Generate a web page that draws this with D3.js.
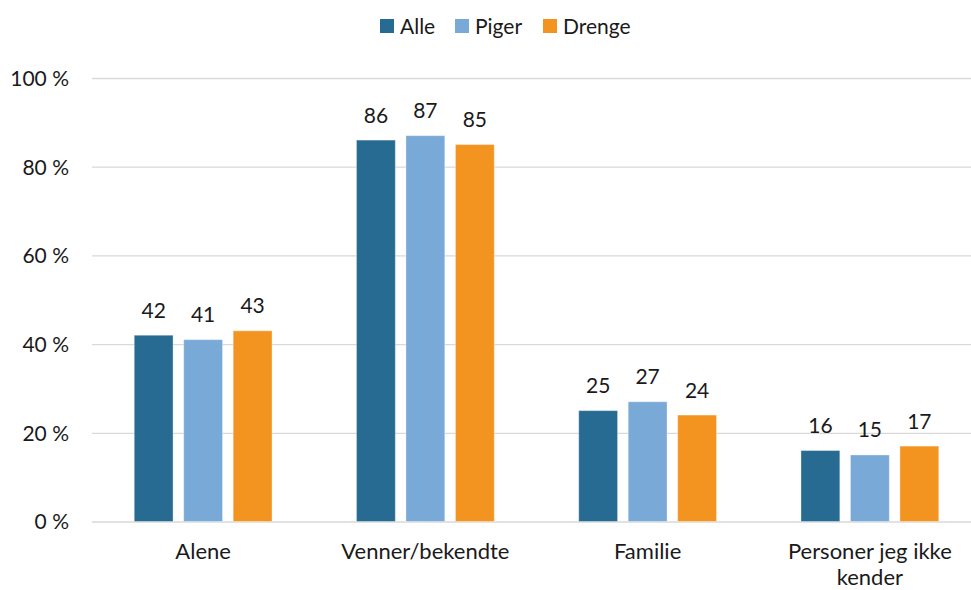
<!DOCTYPE html>
<html>
<head>
<meta charset="utf-8">
<script src="https://cdn.jsdelivr.net/npm/d3@7"></script>
<style>
  html, body { margin: 0; padding: 0; background: #fff; }
  svg { display: block; }
  text { font-family: Lato, "Open Sans", sans-serif; fill: #1a1a1a; }
</style>
</head>
<body>
<svg id="chart" width="971" height="590"></svg>
<script>
// Chart data
const categories = ["Alene", "Venner/bekendte", "Familie", "Personer jeg ikke kender"];
const categoryLines = [["Alene"], ["Venner/bekendte"], ["Familie"], ["Personer jeg ikke", "kender"]];
const seriesNames = ["Alle", "Piger", "Drenge"];
const alle = [42, 86, 25, 16];
const piger = [41, 87, 27, 15];
const drenge = [43, 85, 24, 17];
const yTicks = [0, 20, 40, 60, 80, 100];
const colors = ["#276b93", "#79a9d7", "#f49420"];

const seriesValues = [alle, piger, drenge];
const svg = d3.select("#chart");
const fontSize = "21px";
const catFontSize = "22px";

const plotLeft = 92, plotRight = 981, plotTop = 78, plotBottom = 521.5;

const x0 = d3.scaleBand().domain(categories).range([plotLeft, plotRight]).paddingInner(0.38).paddingOuter(0.19);
const x1 = d3.scaleBand().domain(seriesNames).range([0, x0.bandwidth()]).paddingInner(0.215);
const y = d3.scaleLinear().domain([0, 100]).range([plotBottom, plotTop]);
const color = d3.scaleOrdinal().domain(seriesNames).range(colors);

// Gridlines and y tick labels
const yAxis = d3.axisLeft(y).tickValues(yTicks).tickSize(-(971 - plotLeft)).tickFormat(d => d + " %");
const gy = svg.append("g").attr("transform", `translate(${plotLeft},0)`).call(yAxis);
gy.select(".domain").remove();
gy.selectAll(".tick line").attr("stroke", "#d9d9d9").attr("stroke-width", 1.3);
gy.selectAll(".tick text")
  .attr("x", -23)
  .attr("dy", "0.35em")
  .style("font-size", fontSize)
  .style("font-family", "Lato, sans-serif")
  .attr("fill", "#1a1a1a");

// Bars
const rows = categories.map((c, i) => ({ cat: c, vals: seriesNames.map((s, j) => ({ s, v: seriesValues[j][i] })) }));
const groups = svg.append("g").selectAll("g").data(rows).join("g")
  .attr("transform", d => `translate(${x0(d.cat)},0)`);

groups.selectAll("rect").data(d => d.vals).join("rect")
  .attr("x", d => x1(d.s))
  .attr("y", d => y(d.v))
  .attr("width", x1.bandwidth())
  .attr("height", d => y(0) - y(d.v))
  .attr("fill", d => color(d.s))
  .attr("stroke", "rgba(255,255,255,0.35)")
  .attr("stroke-width", 1);

// Value labels
groups.selectAll("text.val").data(d => d.vals).join("text")
  .attr("class", "val")
  .attr("x", d => x1(d.s) + x1.bandwidth() / 2)
  .attr("y", d => y(d.v) - 17.5)
  .attr("text-anchor", "middle")
  .style("font-size", fontSize)
  .text(d => d.v);

// Category labels
const xl = svg.append("g").selectAll("text").data(categories).join("text")
  .attr("x", d => x0(d) + x0.bandwidth() / 2)
  .attr("y", 559)
  .attr("text-anchor", "middle")
  .style("font-size", catFontSize);
xl.each(function(d, i) {
  const t = d3.select(this);
  categoryLines[i].forEach((line, k) => {
    t.append("tspan")
      .attr("x", x0(d) + x0.bandwidth() / 2)
      .attr("dy", k === 0 ? 0 : 26)
      .text(line);
  });
});

// Legend
const legendX = [380, 455, 543];
const legend = svg.append("g").selectAll("g").data(seriesNames).join("g")
  .attr("transform", (d, i) => `translate(${legendX[i]},19)`);
legend.append("rect").attr("width", 14).attr("height", 14).attr("fill", d => color(d));
legend.append("text").attr("x", 20).attr("y", 15).style("font-size", fontSize).text(d => d);
</script>
</body>
</html>
